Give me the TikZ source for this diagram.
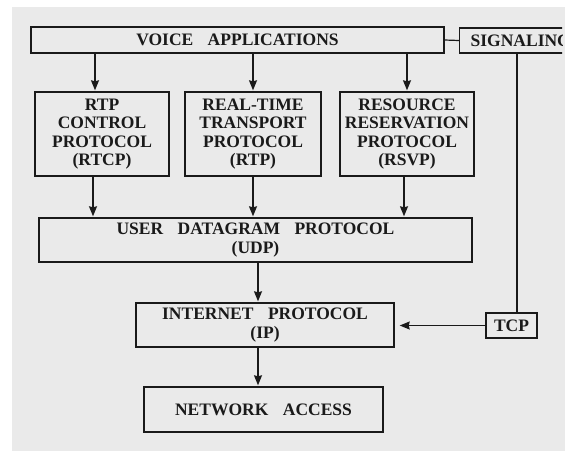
\documentclass[tikz,border=0pt]{standalone}
\usepackage{fontspec}
\setmainfont[WordSpace=3.3]{Liberation Serif}
\usepackage{tikz}
\usepackage{xcolor}
\usetikzlibrary{arrows.meta}

\definecolor{paper}{HTML}{EAEAEA}
\definecolor{ink}{HTML}{1A1A1A}

\tikzset{
  layer/.style={rectangle, draw=ink, line width=1.4pt, align=center, inner sep=0pt,
    font=\fontsize{17.5}{18.5}\selectfont\bfseries, text=ink},
  link/.style={draw=ink, line width=1.2pt},
  arr/.style={link, -{Stealth[length=10pt, width=8pt, inset=1pt]}, shorten >=1pt}
}

\begin{document}
\begin{tikzpicture}[x=1pt, y=-1pt]
\useasboundingbox (0,0) rectangle (567,451);
\fill[paper] (12,7) rectangle (565,451);

% top row
\node[layer, minimum width=413pt, minimum height=26pt] (VA) at (237.5,40) {VOICE APPLICATIONS};
\begin{scope}
\clip (12,7) rectangle (562,451);
\node[layer, anchor=west, text width=119pt, inner xsep=11pt, minimum height=25pt, align=left] (SIG) at (459,40.5) {SIGNALING};
\end{scope}

% transport row
\node[layer, minimum width=134pt, minimum height=84pt] (RTCP) at (102,134) {RTP\\CONTROL\\PROTOCOL\\(RTCP)};
\node[layer, minimum width=136pt, minimum height=84pt] (RTP) at (253,134) {REAL-TIME\\TRANSPORT\\PROTOCOL\\(RTP)};
\node[layer, minimum width=134pt, minimum height=84pt] (RSVP) at (407,134) {RESOURCE\\RESERVATION\\PROTOCOL\\(RSVP)};

\node[layer, minimum width=433pt, minimum height=44pt] (UDP) at (255.5,240) {USER DATAGRAM PROTOCOL\\(UDP)};
\node[layer, minimum width=258pt, minimum height=44pt] (IP) at (265,325) {INTERNET PROTOCOL\\(IP)};
\node[layer, minimum width=51pt, minimum height=25pt] (TCP) at (511.5,325.5) {TCP};
\node[layer, minimum width=239pt, minimum height=45pt] (NA) at (263.5,409.5) {NETWORK ACCESS};

% connectors
\draw[link] (VA.east) -- (SIG.west);
\draw[arr] ([xshift=-7pt]RTCP.north |- VA.south) -- ([xshift=-7pt]RTCP.north);
\draw[arr] (RTP.north |- VA.south) -- (RTP.north);
\draw[arr] (RSVP.north |- VA.south) -- (RSVP.north);
\draw[arr] ([xshift=-9pt]RTCP.south) -- ([xshift=-9pt]RTCP.south |- UDP.north);
\draw[arr] (RTP.south) -- (RTP.south |- UDP.north);
\draw[arr] ([xshift=-3pt]RSVP.south) -- ([xshift=-3pt]RSVP.south |- UDP.north);
\draw[arr] ([xshift=-7pt]IP.north |- UDP.south) -- ([xshift=-7pt]IP.north);
\draw[arr] ([xshift=-7pt]IP.south) -- ([xshift=-7pt]IP.south |- NA.north);
\draw[link] ([xshift=5.5pt]TCP.north |- SIG.south) -- ([xshift=5.5pt]TCP.north);
\draw[arr, shorten >=5pt] (TCP.west) -- (TCP.west -| IP.east);
\end{tikzpicture}
\end{document}
